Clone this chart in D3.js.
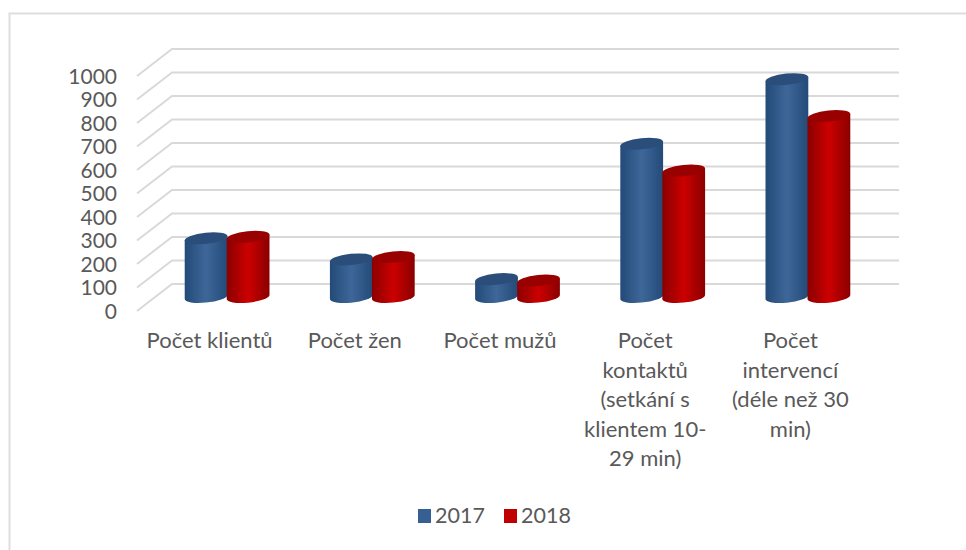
<!DOCTYPE html>
<html><head><meta charset="utf-8">
<script src="https://cdn.jsdelivr.net/npm/d3@7/dist/d3.min.js"></script>
<style>html,body{margin:0;padding:0;background:#fff}svg{display:block}text{font-family:Lato,Carlito,sans-serif;fill:#595959}</style>
</head><body><svg id="c" width="966" height="550"></svg>
<script>
const categories = ["Počet klientů","Počet žen","Počet mužů","Počet kontaktů (setkání s klientem 10-29 min)","Počet intervencí (déle než 30 min)"];
const categoryLines = [["Počet klientů"],["Počet žen"],["Počet mužů"],["Počet","kontaktů","(setkání s","klientem 10-","29 min)"],["Počet","intervencí","(déle než 30","min)"]];
const series = ["2017","2018"];
const values2017 = [250,160,76,652,927];
const values2018 = [256,170,70,538,770];
const ticks = d3.range(0,1001,100);

const svg = d3.select("#c");
const dx=35, dy=-27;
const x = d3.scaleBand().domain(categories).range([137,863]);
const y = d3.scaleLinear().domain([0,1000]).range([311,76]);
const mid = {x:dx/2, y:dy/2};

svg.append("path").attr("d","M9.5 550V13.5H966").attr("fill","none").attr("stroke","#dedede").attr("stroke-width",2);

const defs = svg.append("defs");
function grad(id,e,c){
  const g=defs.append("linearGradient").attr("id",id).attr("x1",0).attr("x2",1).attr("y1",0).attr("y2",0);
  [[0,e],[0.5,c],[1,e]].forEach(s=>g.append("stop").attr("offset",s[0]).attr("stop-color",s[1]));
}
grad("g0","#234a78","#3e6799");
grad("g1","#8a0000","#cc0000");
const topColor=["#2a4d7a","#990000"], swatch=["#366092","#c00000"];

const grid = svg.append("g").attr("fill","none").attr("stroke","#d9d9d9").attr("stroke-width",2);
ticks.forEach(t=>{
  grid.append("path").attr("d",d3.line()([[x.range()[0],y(t)],[x.range()[0]+dx,y(t)+dy],[x.range()[1]+dx+1,y(t)+dy]]));
});

const ax = svg.append("g").attr("transform","translate(124,0.5)").call(d3.axisLeft(y).tickValues(ticks).tickSize(0).tickPadding(7).tickFormat(d3.format("d")));
ax.select(".domain").remove();
ax.selectAll("text").style("font-family","Lato,sans-serif").style("font-size","21px").attr("fill","#595959");

const rx=21.5, ry=5.6, phi=-6*Math.PI/180;
const t0=Math.atan(-(ry/rx)*Math.tan(phi));
const ex=rx*Math.cos(t0)*Math.cos(phi)-ry*Math.sin(t0)*Math.sin(phi);
const ey=rx*Math.cos(t0)*Math.sin(phi)+ry*Math.sin(t0)*Math.cos(phi);
const bars = svg.append("g");
categories.forEach((c,i)=>{
  [values2017,values2018].forEach((vals,s)=>{
    const cx=x(c)+x.bandwidth()/2+mid.x+(s===0?-21:21);
    const by=y(0)+mid.y-0.5, ty=y(vals[i])+mid.y-0.5;
    const rot=phi*180/Math.PI;
    bars.append("path")
      .attr("d",`M${cx-ex} ${ty-ey}L${cx-ex} ${by-ey}A${rx} ${ry} ${rot} 0 0 ${cx+ex} ${by+ey}L${cx+ex} ${ty+ey}Z`)
      .attr("fill",`url(#g${s})`);
    bars.append("ellipse").attr("rx",rx).attr("ry",ry)
      .attr("transform",`translate(${cx},${ty}) rotate(${rot})`).attr("fill",topColor[s]);
  });
});

const lab = svg.append("g").attr("text-anchor","middle").style("font-size","22px");
categories.forEach((c,i)=>{
  const t=lab.append("text").attr("x",x(c)+x.bandwidth()/2).attr("y",348);
  categoryLines[i].forEach((l,j)=>t.append("tspan").attr("x",x(c)+x.bandwidth()/2).attr("dy",j?29.5:0).text(l));
});

const lx=d3.scaleOrdinal().domain(series).range([418,504]);
series.forEach((s,i)=>{
  svg.append("rect").attr("x",lx(s)).attr("y",509).attr("width",13).attr("height",14).attr("fill",swatch[i]);
  svg.append("text").attr("x",lx(s)+17).attr("y",523).style("font-size","21.5px").text(s);
});
</script></body></html>
